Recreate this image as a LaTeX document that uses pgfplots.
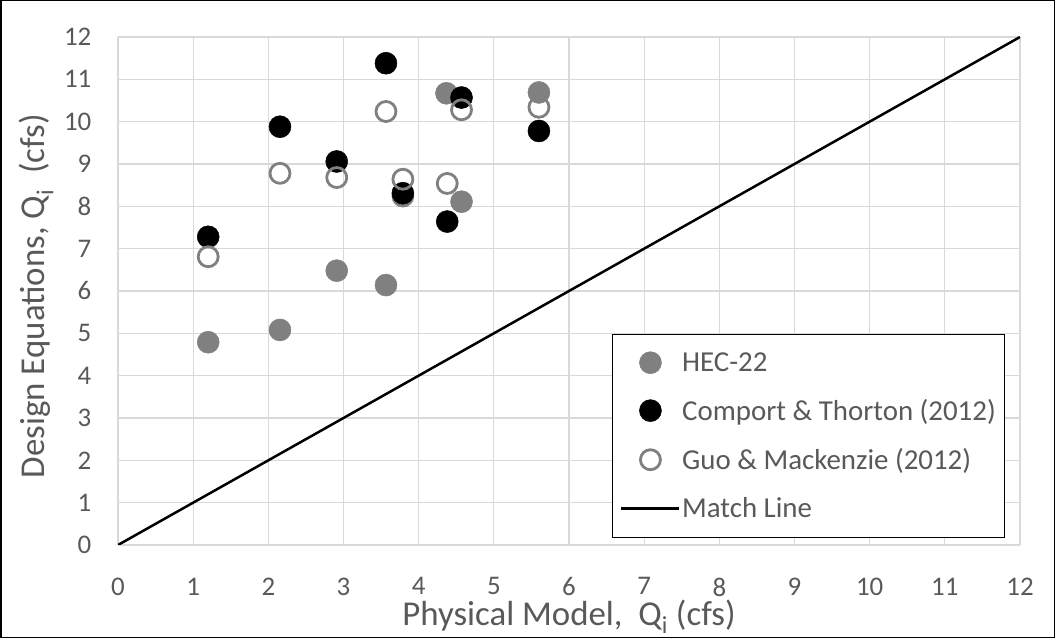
\documentclass[border=0pt]{standalone}
\usepackage{pgfplots}
\pgfplotsset{compat=1.18}
\usepackage{fontspec}
\setmainfont{Carlito}
\definecolor{txt}{HTML}{595959}
\definecolor{gridc}{HTML}{D9D9D9}
\definecolor{hec}{HTML}{808080}
\pgfplotsset{matchline legend/.style={legend image code/.code={\draw[#1] (-21bp,0) -- (37bp,0);}}}

\begin{document}
\begin{tikzpicture}
% outer frame of the figure
\draw[black, line width=1.5bp] (0.75bp,0.75bp) rectangle (1054.25bp,637.25bp);
\begin{axis}[
  at={(118bp,93bp)}, anchor=south west,
  scale only axis, width=902bp, height=508bp,
  xmin=0, xmax=12, ymin=0, ymax=12,
  xtick={0,...,12}, ytick={0,...,12},
  grid=major, major grid style={gridc, line width=1.2bp},
  axis x line*=bottom, axis y line*=left,
  axis line style={gridc, line width=1.2bp, -},
  tick style={draw=none},
  /pgf/number format/assume math mode=true,
  tick label style={font=\fontsize{27}{32}\selectfont, text=txt, inner sep=0pt},
  xticklabel style={yshift=-32.5bp, text depth=0pt},
  yticklabel style={xshift=-26.5bp},
  xlabel={Physical Model,\ \ Q\textsubscript{i} (cfs)},
  ylabel={Design Equations, Q\textsubscript{i}\ \ (cfs)},
  label style={font=\fontsize{35}{42}\selectfont, text=txt, inner sep=0pt},
  xlabel style={at={(0.5,0)}, anchor=base, yshift=-80bp, text height=20bp},
  ylabel style={at={(0,0.49)}, anchor=base, yshift=73bp},
  legend cell align=left,
  legend style={at={(0.548,0.415)}, anchor=north west, draw=black, line width=0.8bp,
    font=\fontsize{29}{35}\selectfont, text=txt, inner xsep=7bp, inner ysep=16bp,
    row sep=22.5bp, /tikz/every even column/.append style={column sep=6bp}},
]
\addplot[only marks, mark=*, mark size=11bp, mark options={draw=hec, fill=hec, line width=0.5bp}]
  coordinates {(1.20,4.79) (2.155,5.08) (2.91,6.48) (3.565,6.14) (3.79,8.24) (4.37,10.67) (4.57,8.11) (5.60,10.69)};
\addlegendentry{HEC-22}
\addplot[only marks, mark=*, mark size=11bp, mark options={draw=black, fill=black, line width=0.5bp}]
  coordinates {(1.20,7.28) (2.155,9.88) (2.91,9.06) (3.565,11.38) (3.79,8.31) (4.38,7.64) (4.57,10.57) (5.60,9.78)};
\addlegendentry{Comport \& Thorton (2012)}
\addplot[only marks, mark=o, mark size=10bp, mark options={draw=hec, fill=none, line width=2.8bp}]
  coordinates {(1.20,6.81) (2.155,8.78) (2.91,8.68) (3.565,10.24) (3.79,8.64) (4.38,8.54) (4.57,10.28) (5.60,10.34)};
\addlegendentry{Guo \& Mackenzie (2012)}
\addplot[black, line width=2.5bp, matchline legend]
  coordinates {(0,0) (12,12)};
\addlegendentry{Match Line}
\end{axis}
\end{tikzpicture}
\end{document}
